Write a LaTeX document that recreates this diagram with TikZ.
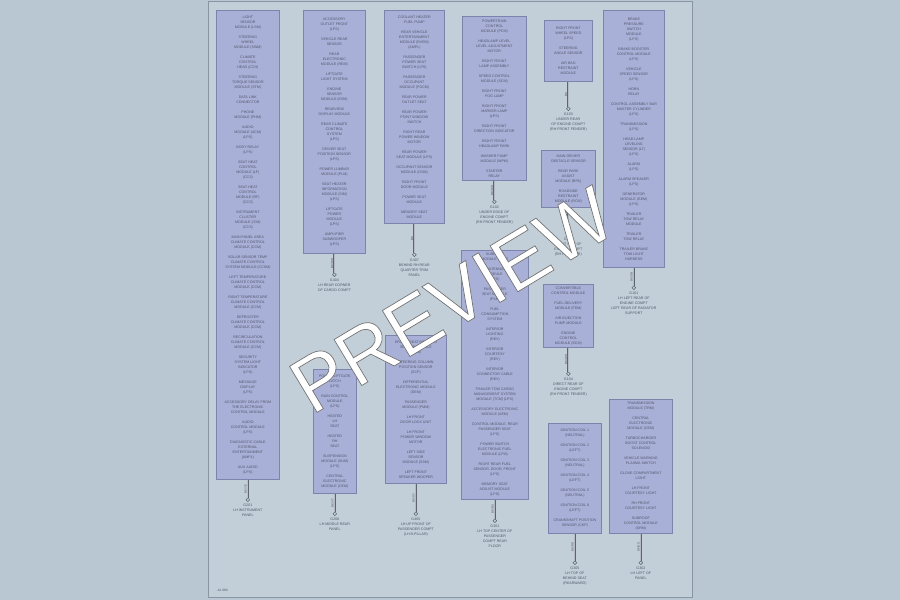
\documentclass[tikz,border=0pt]{standalone}
\usepackage{fontspec}
\setmainfont{Liberation Sans}
\usetikzlibrary{positioning}
\definecolor{pagebg}{HTML}{B8C7D2}
\definecolor{framebg}{HTML}{C2CFD8}
\definecolor{frameline}{HTML}{8796A2}
\definecolor{boxfill}{HTML}{A9B0D8}
\definecolor{boxline}{HTML}{7C84AE}
\definecolor{textgrey}{HTML}{50566A}
\definecolor{wiregrey}{HTML}{5E646E}
\definecolor{wirecore}{HTML}{B3BAC2}
\definecolor{wireyel}{HTML}{CFC47A}
\newcommand{\boxfont}{\fontsize{3.6}{5}\selectfont}
\newcommand{\outlined}[1]{\special{pdf:code q 2 Tr 0.7 w 0.45 G 1 g}#1\special{pdf:code Q}}
\tikzset{
  module/.style={draw=boxline, fill=boxfill, line width=0.7pt, anchor=north west,
    align=center, inner xsep=1pt, inner ysep=2pt, font=\boxfont, text=textgrey},
  wire/.style={draw=wiregrey, line width=0.45pt, double=wirecore, double distance=0.9pt},
  gnd/.style={circle, draw=wiregrey, line width=0.5pt, fill=framebg, minimum size=3.6pt, inner sep=0pt},
  gndlbl/.style={align=center, font=\boxfont, text=textgrey, inner sep=0pt},
  wirelbl/.style={font=\fontsize{3}{3}\selectfont, text=textgrey, rotate=90, anchor=south, inner sep=1pt},
}
\begin{document}
\begin{tikzpicture}[x=1pt, y=-1pt]
\useasboundingbox[fill=pagebg] (0,0) rectangle (900,600);
\draw[fill=framebg, draw=frameline, line width=0.8pt] (208,1) rectangle (692,597);
\node[anchor=south west, font=\fontsize{3.2}{4}\selectfont, text=textgrey] (code) at (214,595) {A1 080};

% left half
\node[module, minimum width=63pt, minimum height=469pt] (mA) at (216,10) {
  LIGHT\\SENSOR\\MODULE (LSM)\\[5pt]
  STEERING\\WHEEL\\MODULE (SWM)\\[5pt]
  CLIMATE\\CONTROL\\HEAD (CCH)\\[5pt]
  STEERING\\TORQUE SENSOR\\MODULE (STM)\\[5pt]
  DATA LINK\\CONNECTOR\\[5pt]
  PHONE\\MODULE (PHM)\\[5pt]
  AUDIO\\MODULE (ACM)\\(LPS)\\[5pt]
  BODY RELAY\\(LPS)\\[5pt]
  SEAT HEAT\\CONTROL\\MODULE (LF)\\(CCS)\\[5pt]
  SEAT HEAT\\CONTROL\\MODULE (RF)\\(CCS)\\[5pt]
  INSTRUMENT\\CLUSTER\\MODULE (ICM)\\(CCS)\\[5pt]
  MAIN PANEL AREA\\CLIMATE CONTROL\\MODULE (CCM)\\[5pt]
  SOLAR SENSOR TEMP\\CLIMATE CONTROL\\SYSTEM MODULE (CCSM)\\[5pt]
  LEFT TEMPERATURE\\CLIMATE CONTROL\\MODULE (CCM)\\[5pt]
  RIGHT TEMPERATURE\\CLIMATE CONTROL\\MODULE (CCM)\\[5pt]
  DEFROSTER\\CLIMATE CONTROL\\MODULE (CCM)\\[5pt]
  RECIRCULATION\\CLIMATE CONTROL\\MODULE (CCM)\\[5pt]
  SECURITY\\SYSTEM LIGHT\\INDICATOR\\(LPS)\\[5pt]
  MESSAGE\\DISPLAY\\(LPS)\\[5pt]
  ACCESSORY DELAY FROM\\THE ELECTRONIC\\CONTROL MODULE\\[5pt]
  AUDIO\\CONTROL MODULE\\(LPS)\\[5pt]
  DIAGNOSTIC CABLE\\EXTERNAL\\ENTERTAINMENT\\(AMPL)\\[5pt]
  AUX AUDIO\\(LPS)};
\node[module, minimum width=62pt, minimum height=243pt] (mB) at (303,10) {
  ACCESSORY\\OUTLET FRONT\\(LPS)\\[5pt]
  VEHICLE REAR\\SENSOR\\[5pt]
  REAR\\ELECTRONIC\\MODULE (REM)\\[5pt]
  LIFTGATE\\LIGHT SYSTEM\\[5pt]
  ENGINE\\SENSOR\\MODULE (ESM)\\[5pt]
  REARVIEW\\DISPLAY MODULE\\[5pt]
  REAR CLIMATE\\CONTROL\\SYSTEM\\(LPS)\\[5pt]
  DRIVER SEAT\\POSITION SENSOR\\(LPS)\\[5pt]
  POWER LUMBAR\\MODULE (PLM)\\[5pt]
  SEAT HEATER\\INFORMATION\\MODULE (SIM)\\(LPS)\\[5pt]
  LIFTGATE\\POWER\\MODULE\\(LPS)\\[5pt]
  AMPLIFIER\\SUBWOOFER\\(LPS)};
\node[module, minimum width=60pt, minimum height=213pt] (mC) at (384,10) {
  COOLANT HEATER\\FUEL PUMP\\[5pt]
  REAR VEHICLE\\ENTERTAINMENT\\MODULE (RVEM)\\(AMPL)\\[5pt]
  PASSENGER\\POWER SEAT\\SWITCH (LPS)\\[5pt]
  PASSENGER\\OCCUPANT\\MODULE (POCM)\\[5pt]
  REAR POWER\\OUTLET SEAT\\[5pt]
  REAR POWER\\POINT WINDOW\\SWITCH\\[5pt]
  RIGHT REAR\\POWER WINDOW\\MOTOR\\[5pt]
  REAR POWER\\SEAT MODULE (LPS)\\[5pt]
  OCCUPANT SENSOR\\MODULE (OSM)\\[5pt]
  RIGHT FRONT\\DOOR MODULE\\[5pt]
  POWER SEAT\\MODULE\\[5pt]
  MEMORY SEAT\\MODULE};
\node[module, minimum width=43pt, minimum height=124pt] (mL) at (313,369) {
  POWER LIFTGATE\\LATCH\\(LPS)\\[5pt]
  RAIN CONTROL\\MODULE\\(LPS)\\[5pt]
  HEATED\\LH\\SEAT\\[5pt]
  HEATED\\RH\\SEAT\\[5pt]
  SUSPENSION\\MODULE (SUM)\\(LPS)\\[5pt]
  CENTRAL\\ELECTRONIC\\MODULE (CEM)};
\node[module, minimum width=61pt, minimum height=148pt] (mM) at (385,335) {
  DRIVER SEAT POSITION\\SENSOR MODULE\\(PSM)\\[5pt]
  STEERING COLUMN\\POSITION SENSOR\\(SCP)\\[5pt]
  DIFFERENTIAL\\ELECTRONIC MODULE\\(DEM)\\[5pt]
  PASSENGER\\MODULE (PMM)\\[5pt]
  LH FRONT\\DOOR LOCK UNIT\\[5pt]
  LH FRONT\\POWER WINDOW\\MOTOR\\[5pt]
  LEFT SIDE\\SENSOR\\MODULE (SSM)\\[5pt]
  LEFT FRONT\\SPEAKER WOOFER};

% right half
\node[module, minimum width=64pt, minimum height=164pt] (mD) at (462,16) {
  POWERTRAIN\\CONTROL\\MODULE (PCM)\\[5pt]
  HEADLAMP LEVEL\\LEVEL ADJUSTMENT\\MOTOR\\[5pt]
  RIGHT FRONT\\LAMP ASSEMBLY\\[5pt]
  SPEED CONTROL\\MODULE (SCM)\\[5pt]
  RIGHT FRONT\\FOG LAMP\\[5pt]
  RIGHT FRONT\\MARKER LAMP\\(LPS)\\[5pt]
  RIGHT FRONT\\DIRECTION INDICATOR\\[5pt]
  RIGHT FRONT\\HEADLAMP PARK\\[5pt]
  WASHER PUMP\\MODULE (WPM)\\[5pt]
  STARTER\\RELAY};
\node[module, minimum width=48pt, minimum height=61pt] (mE) at (544,20) {
  RIGHT FRONT\\WHEEL SPEED\\(LPS)\\[5pt]
  STEERING\\ANGLE SENSOR\\[5pt]
  AIR BAG\\RESTRAINT\\MODULE};
\node[module, minimum width=54pt, minimum height=57pt] (mG) at (541,150) {
  MAIN DRIVER\\OBSTACLE SENSOR\\[5pt]
  REAR PARK\\ASSIST\\MODULE (RPA)\\[5pt]
  ROADSIDE\\RESTRAINT\\MODULE (RCM)};
\node[module, minimum width=50pt, minimum height=63pt] (mH) at (543,284) {
  CONVERTIBLE\\CONTROL MODULE\\[5pt]
  FUEL DELIVERY\\MODULE (FDM)\\[5pt]
  AIR INJECTION\\PUMP MODULE\\[5pt]
  ENGINE\\CONTROL\\MODULE (ECM)};
\node[module, minimum width=61pt, minimum height=257pt] (mF) at (603,10) {
  BRAKE\\PRESSURE\\SWITCH\\MODULE\\(LPS)\\[5pt]
  BRAKE BOOSTER\\CONTROL MODULE\\(LPS)\\[5pt]
  VEHICLE\\SPEED SENSOR\\(LPS)\\[5pt]
  HORN\\RELAY\\[5pt]
  CONTROL ASSEMBLY BAR\\MASTER CYLINDER\\(LPS)\\[5pt]
  TRANSMISSION\\(LPS)\\[5pt]
  HEAD LAMP\\LEVELING\\SENSOR (LT)\\(LPS)\\[5pt]
  ALARM\\(LPS)\\[5pt]
  ALARM SPEAKER\\(LPS)\\[5pt]
  GENERATOR\\MODULE (GEM)\\(LPS)\\[5pt]
  TRAILER\\TOW RELAY\\MODULE\\[5pt]
  TRAILER\\TOW RELAY\\[5pt]
  TRAILER BRAKE\\TOW LIGHT\\HARNESS};
\node[module, minimum width=67pt, minimum height=249pt] (mI) at (461,250) {
  SUNROOF\\MODULE (SRM)\\[5pt]
  ANTENNA\\MODULE\\(LPS)\\[5pt]
  PASSENGER\\SEAT MODULE\\(PSM)\\[5pt]
  FUEL\\CONSUMPTION\\SYSTEM\\[5pt]
  INTERIOR\\LIGHTING\\(REV)\\[5pt]
  INTERIOR\\COURTESY\\(REV)\\[5pt]
  INTERIOR\\CONNECTOR CABLE\\(REV)\\[5pt]
  TRAILER TOW CARGO\\MANAGEMENT SYSTEM\\MODULE (TCM) (LPS)\\[5pt]
  ACCESSORY ELECTRONIC\\MODULE (AEM)\\[5pt]
  CONTROL MODULE, REAR\\PASSENGER SEAT\\(LPS)\\[5pt]
  POWER SWITCH\\ELECTRONIC FUEL\\MODULE (LFM)\\[5pt]
  RIGHT REAR FUEL\\SENSOR, DOOR, FRONT\\(LPS)\\[5pt]
  MEMORY SEAT\\ADJUST MODULE\\(LPS)};
\node[module, minimum width=53pt, minimum height=110pt] (mJ) at (548,423) {
  IGNITION COIL 1\\(NEUTRAL)\\[5pt]
  IGNITION COIL 2\\(LEFT)\\[5pt]
  IGNITION COIL 3\\(NEUTRAL)\\[5pt]
  IGNITION COIL 4\\(LEFT)\\[5pt]
  IGNITION COIL 5\\(NEUTRAL)\\[5pt]
  IGNITION COIL 6\\(LEFT)\\[5pt]
  CRANKSHAFT POSITION\\SENSOR (CKP)};
\node[module, minimum width=63pt, minimum height=134pt] (mK) at (609,399) {
  TRANSMISSION\\MODULE (TRM)\\[5pt]
  CENTRAL\\ELECTRONIC\\MODULE (CEM)\\[5pt]
  TURBOCHARGER\\BOOST CONTROL\\SOLENOID\\[5pt]
  VEHICLE WARNING\\PLASMA SWITCH\\[5pt]
  GLOVE COMPARTMENT\\LIGHT\\[5pt]
  LH FRONT\\COURTESY LIGHT\\[5pt]
  RH FRONT\\COURTESY LIGHT\\[5pt]
  SUNROOF\\CONTROL MODULE\\(SRM)};

% grounds
\node[gnd, below=18pt of mA] (gA) {};
\node[gnd, below=19pt of mB] (gB) {};
\node[gnd, below=29pt of mC] (gC) {};
\node[gnd, below=18pt of mL] (gL) {};
\node[gnd, below=28pt of mM] (gM) {};
\node[gnd, below=19pt of mD] (gD) {};
\node[gnd, below=25pt of mE] (gE) {};
\node[gnd, below=24pt of mG] (gG) {};
\node[gnd, below=24pt of mH] (gH) {};
\node[gnd, below=18pt of mF] (gF) {};
\node[gnd, below=19pt of mI] (gI) {};
\node[gnd, below=27pt of mJ] (gJ) {};
\node[gnd, below=27pt of mK] (gK) {};

\node[gndlbl, below=1.5pt of gA] (lA) {G201\\LH INSTRUMENT\\PANEL};
\node[gndlbl, below=1.5pt of gB] (lB) {G404\\LH REAR CORNER\\OF CARGO COMPT};
\node[gndlbl, below=1.5pt of gC] (lC) {G407\\BEHIND RH REAR\\QUARTER TRIM\\PANEL};
\node[gndlbl, below=1.5pt of gL] (lL) {G206\\LH MIDDLE REAR\\PANEL};
\node[gndlbl, below=1.5pt of gM] (lM) {G405\\LH UP FRONT OF\\PASSENGER COMPT\\(LH B-PILLAR)};
\node[gndlbl, below=1.5pt of gD] (lD) {G102\\UNDER EDGE OF\\ENGINE COMPT\\(RH FRONT FENDER)};
\node[gndlbl, below=1.5pt of gE] (lE) {G103\\UNDER REAR\\OF ENGINE COMPT\\(RH FRONT FENDER)};
\node[gndlbl, below=1.5pt of gG] (lG) {G105\\RIGHT SIDE OF\\ENGINE COMPT\\(RH RADIATOR)};
\node[gndlbl, below=1.5pt of gH] (lH) {G104\\DIRECT REAR OF\\ENGINE COMPT\\(RH FRONT FENDER)};
\node[gndlbl, below=1.5pt of gF] (lF) {G101\\LH LEFT REAR OF\\ENGINE COMPT\\LEFT REAR OF RADIATOR\\SUPPORT};
\node[gndlbl, below=1.5pt of gI] (lI) {G301\\LH TOP CENTER OF\\PASSENGER\\COMPT REAR\\FLOOR};
\node[gndlbl, below=1.5pt of gJ] (lJ) {G305\\LH TOP OF\\BEHIND SEAT\\(REARWARD)};
\node[gndlbl, below=1.5pt of gK] (lK) {G302\\LH LEFT OF\\PANEL};

% wires
\draw[wire, double=wireyel] (mA) -- (gA) node[midway, wirelbl] {BK/YE};
\draw[wire] (mB) -- (gB) node[midway, wirelbl] {BK/WH};
\draw[wire] (mC) -- (gC) node[midway, wirelbl] {BK};
\draw[wire] (mL) -- (gL) node[midway, wirelbl] {BK/VT};
\draw[wire] (mM) -- (gM) node[midway, wirelbl] {BK/GY};
\draw[wire] (mD) -- (gD) node[midway, wirelbl] {BK/WH};
\draw[wire] (mE) -- (gE) node[midway, wirelbl] {BK};
\draw[wire] (mG) -- (gG) node[midway, wirelbl] {BK};
\draw[wire] (mH) -- (gH) node[midway, wirelbl] {BK/WH};
\draw[wire] (mF) -- (gF) node[midway, wirelbl] {BK/GN};
\draw[wire] (mI) -- (gI) node[midway, wirelbl] {BK/BU};
\draw[wire] (mJ) -- (gJ) node[midway, wirelbl] {BK/RD};
\draw[wire] (mK) -- (gK) node[midway, wirelbl] {BK/OG};

% watermark
\node[rotate=31, font=\fontsize{78}{78}\selectfont, text=white] (wm) at (452,300) {\outlined{PREVIEW}};
\end{tikzpicture}
\end{document}
